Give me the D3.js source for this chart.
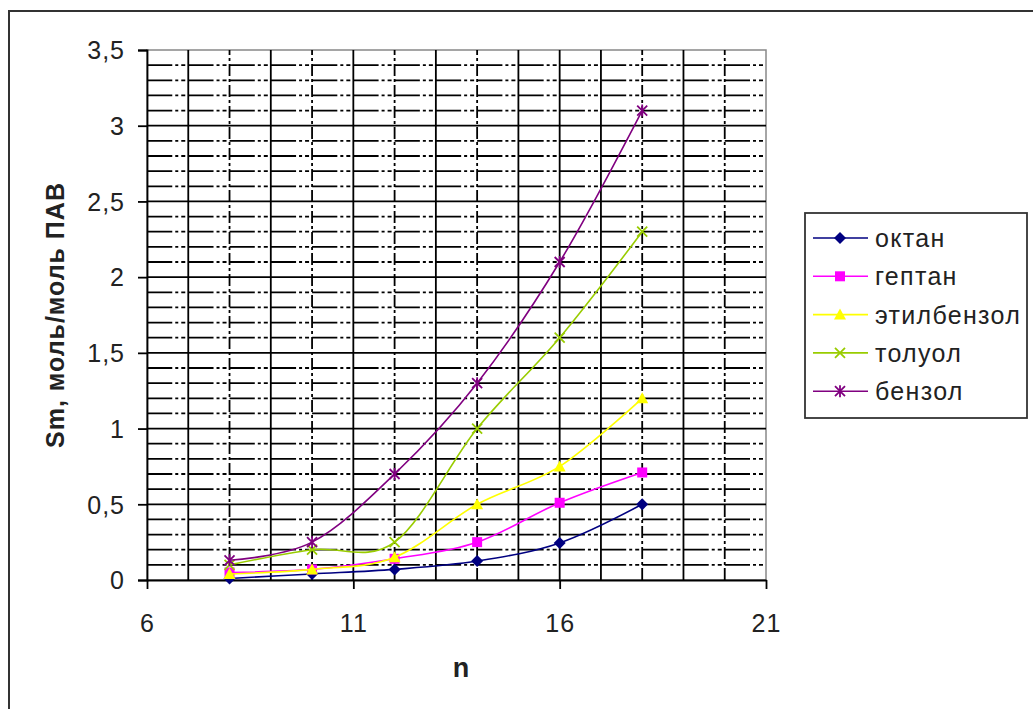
<!DOCTYPE html>
<html><head><meta charset="utf-8">
<script src="https://cdn.jsdelivr.net/npm/d3@7"></script>
<style>body{margin:0;background:#fff;}svg{display:block;font-family:"Liberation Sans",Arial,sans-serif;}</style>
</head><body>
<svg id="c" width="1033" height="709"></svg>
<script>
const nValues = [8, 10, 12, 14, 16, 18];
const seriesNames = ["октан", "гептан", "этилбензол", "толуол", "бензол"];
const octan = [0.01, 0.04, 0.07, 0.125, 0.245, 0.5];
const heptan = [0.05, 0.07, 0.14, 0.25, 0.51, 0.71];
const ethylbenzol = [0.04, 0.07, 0.15, 0.5, 0.75, 1.2];
const toluol = [0.1, 0.2, 0.25, 1.0, 1.6, 2.3];
const benzol = [0.13, 0.25, 0.7, 1.3, 2.1, 3.1];
const xTicks = [6, 11, 16, 21];
const yTicks = [0, 0.5, 1, 1.5, 2, 2.5, 3, 3.5];
const colors = ["#000080", "#ff00ff", "#ffff00", "#99cc00", "#800080"];
const markers = ["diamond", "square", "triangle", "x", "asterisk"];
const allSeries = [octan, heptan, ethylbenzol, toluol, benzol];

const svg = d3.select("#c");
const x = d3.scaleLinear().domain([6, 21]).range([147, 766]);
const y = d3.scaleLinear().domain([0, 3.5]).range([580, 50]);
const FS = 25;

// outer border
svg.append("rect").attr("x", 9).attr("y", 11).attr("width", 1040).attr("height", 720)
  .attr("fill", "none").attr("stroke", "#333").attr("stroke-width", 2);

// plot area border
svg.append("rect").attr("x", x(6)).attr("y", y(3.5)).attr("width", x(21) - x(6)).attr("height", y(0) - y(3.5))
  .attr("fill", "#fff").attr("stroke", "#888").attr("stroke-width", 1.5);

const g = svg.append("g");
const u = x(7) - x(6);
// horizontal grid every 0.1
const hLines = d3.range(1, 35).map(i => i / 10);
g.selectAll(".hg").data(hLines).join("line")
  .attr("x1", x(6)).attr("x2", x(21))
  .attr("y1", d => y(d)).attr("y2", d => y(d))
  .attr("stroke", "#000").attr("stroke-width", 1.8)
  .attr("stroke-dasharray", (d, i) => ((i + 1) % 5 === 0) ? null : `${u - 16},3,3,3,4,3`);
// vertical grid every 1
const vLines = d3.range(7, 21);
g.selectAll(".vg").data(vLines).join("line")
  .attr("x1", d => x(d)).attr("x2", d => x(d))
  .attr("y1", y(0)).attr("y2", y(3.5))
  .attr("stroke", "#000").attr("stroke-width", 1.8)
  .attr("stroke-dasharray", d => ((d - 6) % 5 === 0) ? null : (d % 2 === 0 ? "12,3,3,3" : null));

// axes
const yAxis = d3.axisLeft(y).tickValues(yTicks).tickSize(9).tickFormat(d => String(d).replace(".", ","));
const ya = svg.append("g").attr("transform", `translate(${x(6)},0)`).call(yAxis);
ya.select(".domain").attr("stroke", "#000").attr("stroke-width", 1.8);
ya.selectAll(".tick line").attr("stroke", "#000").attr("stroke-width", 1.8);
ya.selectAll(".tick text").attr("x", -22).attr("dy", "0.35em").attr("font-size", FS).attr("letter-spacing", 1)
  .attr("fill", "#222").attr("font-family", "Liberation Sans, Arial");

const xAxis = d3.axisBottom(x).tickValues(xTicks).tickSize(9).tickSizeOuter(0);
const xa = svg.append("g").attr("transform", `translate(0,${y(0)})`).call(xAxis);
xa.select(".domain").attr("stroke", "#000").attr("stroke-width", 1.8);
xa.selectAll(".tick line").attr("stroke", "#000").attr("stroke-width", 1.8);
xa.selectAll(".tick text").attr("y", 52).attr("dy", 0).attr("font-size", FS).attr("letter-spacing", 1)
  .attr("fill", "#222").attr("font-family", "Liberation Sans, Arial");

// titles
svg.append("text").attr("x", 461).attr("y", 677).attr("text-anchor", "middle")
  .attr("font-size", 27).attr("font-weight", "bold").attr("fill", "#222").text("n");
svg.append("text").attr("transform", "translate(64,315) rotate(-90)").attr("text-anchor", "middle")
  .attr("font-size", FS).attr("font-weight", "bold").attr("letter-spacing", 1).attr("fill", "#222").text("Sm, моль/моль ПАВ");

// markers
function drawMarker(sel, type, color, cx, cy) {
  const s = 6;
  if (type === "diamond") sel.append("path").attr("d", `M${cx},${cy - s}L${cx + s},${cy}L${cx},${cy + s}L${cx - s},${cy}Z`).attr("fill", color);
  else if (type === "square") sel.append("rect").attr("x", cx - 5).attr("y", cy - 5).attr("width", 10).attr("height", 10).attr("fill", color);
  else if (type === "triangle") sel.append("path").attr("d", `M${cx},${cy - 6}L${cx + 6},${cy + 5}L${cx - 6},${cy + 5}Z`).attr("fill", color);
  else if (type === "x") sel.append("path").attr("d", `M${cx - 5},${cy - 5}L${cx + 5},${cy + 5}M${cx - 5},${cy + 5}L${cx + 5},${cy - 5}`).attr("stroke", color).attr("stroke-width", 1.8);
  else if (type === "asterisk") sel.append("path").attr("d", `M${cx - 5},${cy - 5}L${cx + 5},${cy + 5}M${cx - 5},${cy + 5}L${cx + 5},${cy - 5}M${cx},${cy - 6}L${cx},${cy + 6}`).attr("stroke", color).attr("stroke-width", 1.8);
}

const line = d3.line().x((d, i) => x(nValues[i])).y(d => y(d)).curve(d3.curveCatmullRom.alpha(0));
allSeries.forEach((vals, k) => {
  const sg = svg.append("g");
  sg.append("path").attr("d", line(vals)).attr("fill", "none").attr("stroke", colors[k]).attr("stroke-width", 1.6);
  vals.forEach((v, i) => drawMarker(sg, markers[k], colors[k], x(nValues[i]), y(v)));
});

// legend
const lg = svg.append("g");
lg.append("rect").attr("x", 805).attr("y", 213).attr("width", 222).attr("height", 205)
  .attr("fill", "#fff").attr("stroke", "#333").attr("stroke-width", 1.8);
seriesNames.forEach((name, k) => {
  const cy = 238 + k * 38.3;
  lg.append("line").attr("x1", 813).attr("x2", 868).attr("y1", cy).attr("y2", cy).attr("stroke", colors[k]).attr("stroke-width", 1.6);
  drawMarker(lg, markers[k], colors[k], 840, cy);
  lg.append("text").attr("x", 875).attr("y", cy + 9).attr("font-size", FS).attr("letter-spacing", 1.3).attr("fill", "#222").text(name);
});
</script>
</body></html>
